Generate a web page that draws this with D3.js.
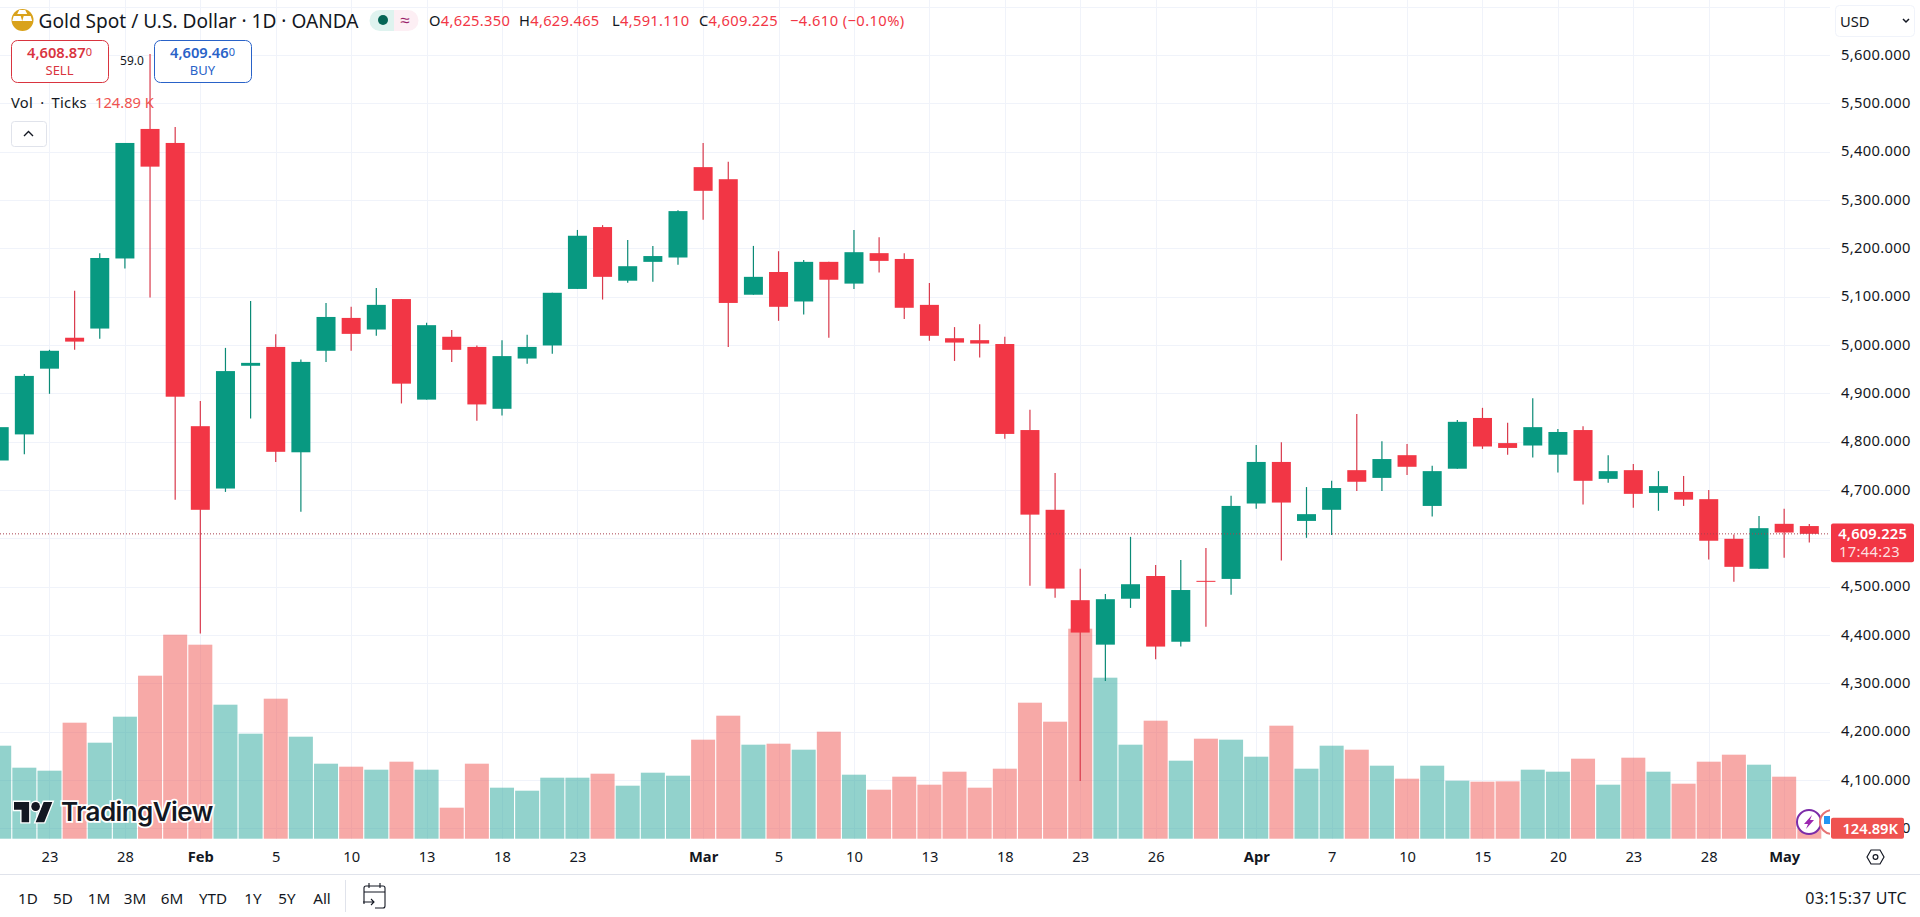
<!DOCTYPE html>
<html><head><meta charset="utf-8">
<script src="https://cdnjs.cloudflare.com/ajax/libs/d3/7.8.5/d3.min.js"></script>
<style>
html,body{margin:0;padding:0;background:#fff;overflow:hidden}
svg{display:block}
text{font-family:"Noto Sans",Tahoma,sans-serif}
</style></head><body><div id="chart"></div>
<script>
const opens=[4761,4815,4951,5015,5034,5179,5447,5418,4832,4703,4957,4996,4778,4988,5056,5032,5095,4887,5017,4996,4868,4972,4999,5116,5244,5133,5172,5181,5368,5343,5104,5151,5090,5172,5127,5190,5178,5083,5014,5010,5002,4824,4659,4472,4380,4475,4522,4386,4512,4516,4672,4758,4636,4659,4741,4725,4772,4667,4744,4849,4797,4792,4773,4824,4723,4741,4694,4696,4681,4599,4537,4630,4625.35];
const highs=[4845,4940,4990,5112,5190,5418,5602,5451,4884,4994,5091,5022,4970,5087,5079,5118,5095,5046,5031,4999,5010,5021,5108,5238,5248,5217,5205,5279,5418,5379,5205,5194,5176,5172,5238,5223,5190,5128,5037,5043,5017,4866,4735,4537,4485,4603,4545,4555,4580,4688,4793,4799,4706,4719,4857,4801,4795,4750,4845,4870,4839,4890,4826,4832,4772,4754,4739,4729,4700,4608,4646,4661,4629.465];
const lows=[4752,4774,4899,4990,5013,5158,5098,4680,4403,4696,4848,4758,4655,4965,4988,5019,4879,4887,4965,4843,4854,4961,4982,5116,5094,5129,5131,5166,5259,4996,5104,5050,5063,5015,5116,5150,5054,5009,4967,4974,4806,4502,4477,4098,4305,4456,4350,4376,4417,4483,4661,4554,4601,4607,4698,4698,4731,4645,4744,4785,4773,4767,4736,4670,4715,4663,4657,4667,4556,4510,4537,4560,4591.11];
const closes=[4830,4936,4988,5007,5180,5418,5369,4893,4659,4946,4963,4779,4965,5058,5023,5083,4920,5041,4990,4877,4977,4996,5108,5226,5141,5163,5184,5277,5319,5087,5141,5079,5172,5135,5192,5174,5077,5019,5005,5003,4816,4649,4496,4405,4474,4505,4376,4493,4510,4667,4758,4674,4650,4704,4717,4764,4748,4739,4841,4790,4787,4830,4820,4719,4739,4692,4708,4680,4595,4541,4621,4612,4609.225];
const volumes=[1116,852,816,1392,1152,1464,1956,2448,2328,1608,1260,1680,1224,900,864,828,924,828,372,900,612,576,732,732,780,636,792,756,1188,1476,1128,1140,1068,1284,768,588,744,648,804,612,840,1632,1404,2520,1932,1128,1416,936,1200,1188,984,1356,840,1116,1068,876,720,876,696,684,688,828,804,960,648,972,804,660,924,1008,888,744,124.89];
const timeTickIdx=[2,5,8,11,14,17,20,23,28,31,34,37,40,43,46,50,53,56,59,62,65,68,71];
const timeTickLabels=["23","28","Feb","5","10","13","18","23","Mar","5","10","13","18","23","26","Apr","7","10","15","20","23","28","May"];
const monthLabels=["Feb","Mar","Apr","May"];
const priceTicks=[5700,5600,5500,5400,5300,5200,5100,5000,4900,4800,4700,4600,4500,4400,4300,4200,4100,4000];
const rangeButtons=["1D","5D","1M","3M","6M","YTD","1Y","5Y","All"];
const ohlcText=[["O","4,625.350"],["H","4,629.465"],["L","4,591.110"],["C","4,609.225"]];

const W=1920,H=917,paneR=1830,paneB=839;
const UP="#089981",DOWN="#F23645",GRID="#F0F3FA",INK="#131722";
const svg=d3.select("#chart").append("svg").attr("width",W).attr("height",H).attr("viewBox",[0,0,W,H]);
const x=d3.scaleLinear().domain([0,72]).range([-0.8,1809.3]);
const y=d3.scaleLinear().domain([5600,4000]).range([55,828.3]);
const v=d3.scaleLinear().domain([0,2520]).range([838.7,628.7]);
const data=opens.map((o,i)=>({i,o,h:highs[i],l:lows[i],c:closes[i],v:volumes[i],up:closes[i]>=o}));
svg.append("clipPath").attr("id","pane").append("rect").attr("width",paneR).attr("height",paneB);
const pane=svg.append("g").attr("clip-path","url(#pane)");

// grid
pane.append("g").selectAll("line").data(priceTicks).join("line")
 .attr("x1",0).attr("x2",paneR).attr("y1",d=>Math.round(y(d))+.5).attr("y2",d=>Math.round(y(d))+.5).attr("stroke",GRID);
pane.append("g").selectAll("line").data(timeTickIdx).join("line")
 .attr("y1",0).attr("y2",paneB).attr("x1",d=>Math.round(x(d))+.5).attr("x2",d=>Math.round(x(d))+.5).attr("stroke",GRID);

// volume
pane.append("g").selectAll("rect").data(data).join("rect")
 .attr("x",d=>x(d.i)-12).attr("width",24).attr("y",d=>v(d.v)).attr("height",d=>v(0)-v(d.v))
 .attr("fill",d=>d.up?"#26a69a":"#ef5350").attr("fill-opacity",.5);

// candles
pane.append("g").selectAll("line").data(data).join("line")
 .attr("x1",d=>x(d.i)).attr("x2",d=>x(d.i)).attr("y1",d=>y(d.h)).attr("y2",d=>y(d.l))
 .attr("stroke",d=>d.up?"#0B8A76":"#D93A4C").attr("stroke-width",1.2);
pane.append("g").selectAll("rect").data(data).join("rect")
 .attr("x",d=>x(d.i)-9.5).attr("width",19)
 .attr("y",d=>y(Math.max(d.o,d.c))).attr("height",d=>Math.max(1,Math.abs(y(d.o)-y(d.c))))
 .attr("fill",d=>d.up?UP:DOWN);

// last price line
pane.append("line").attr("x1",0).attr("x2",paneR).attr("y1",y(closes[72])).attr("y2",y(closes[72]))
 .attr("stroke","#A8404E").attr("stroke-dasharray","1 2").attr("stroke-width",1);

// TradingView logo
const logo=pane.append("g");
logo.append("g").attr("transform","translate(14,797.5) scale(1.08,1.12)")
 .call(g=>{
  g.append("path").attr("d","M14 22H7V11H0V4h14v18zM28 22h-8l7.5-18h8L28 22z").attr("fill","#131722").attr("stroke","#fff").attr("stroke-width",2.5).attr("paint-order","stroke");
  g.append("circle").attr("cx",20).attr("cy",8).attr("r",4).attr("fill","#131722").attr("stroke","#fff").attr("stroke-width",2.5).attr("paint-order","stroke");
 });
logo.append("text").attr("x",61).attr("y",821).text("TradingView")
 .attr("font-size",26).attr("font-weight",600).attr("fill","#131722").attr("stroke","#fff").attr("stroke-width",3.5).attr("paint-order","stroke")
 .style("font-family","Inter,sans-serif").style("letter-spacing","-0.6px");

// lightning + flag bubbles
const bolt=pane.append("g").attr("transform","translate(1809,822)");
bolt.append("circle").attr("r",12).attr("fill","#fff").attr("stroke","#7B2CA8").attr("stroke-width",2);
bolt.append("path").attr("d","M3 -7L-5 2H-1L-3 7L5 -2H1Z").attr("fill","#9C27B0");
const flag=pane.append("g").attr("transform","translate(1832,822)");
flag.append("circle").attr("r",12).attr("fill","#fff").attr("stroke","#E57373").attr("stroke-width",2);
flag.append("rect").attr("x",-8).attr("y",-6).attr("width",8).attr("height",8).attr("fill","#2196F3");

// price axis (the 4,600 label sits hidden under the last-price badge in the reference)
const axisR=svg.append("g").attr("transform",`translate(${paneR},0)`)
 .call(d3.axisRight(y).tickValues(priceTicks.filter(t=>t<=5600&&t!==4600)).tickSize(0).tickPadding(11).tickFormat(d3.format(",.3f")));
axisR.select(".domain").remove();
axisR.selectAll("text").style("font-family",'"Noto Sans",sans-serif').attr("font-size",14.7).attr("fill",INK).attr("dy",".28em").style("letter-spacing",".35px");

// time axis
const axisB=svg.append("g").attr("transform",`translate(0,${paneB})`)
 .call(d3.axisBottom(x).tickValues(timeTickIdx).tickSize(0).tickPadding(13).tickFormat((d,i)=>timeTickLabels[i]));
axisB.select(".domain").remove();
axisB.selectAll("text").style("font-family",'"Noto Sans",sans-serif').attr("font-size",14.7).attr("fill",INK)
 .attr("font-weight",(d,i)=>monthLabels.includes(timeTickLabels[i])?700:400);

// axis badges
const lastY=y(closes[72]);
const badge=svg.append("g");
badge.append("rect").attr("x",1831).attr("y",lastY-10.3).attr("width",83).attr("height",38.7).attr("rx",2).attr("fill",DOWN);
badge.append("text").attr("x",1907).attr("y",lastY+5).attr("text-anchor","end").attr("fill","#fff").attr("font-size",14.7).attr("font-weight",600).style("letter-spacing",".2px").text(d3.format(",.3f")(closes[72]));
badge.append("text").attr("x",1900).attr("y",lastY+23).attr("text-anchor","end").attr("fill","#fff").attr("fill-opacity",.85).attr("font-size",14.7).style("letter-spacing",".35px").text("17:44:23");
badge.append("rect").attr("x",1831).attr("y",817.7).attr("width",73).attr("height",21).attr("rx",2).attr("fill","#EF5350");
badge.append("text").attr("x",1898).attr("y",834).attr("text-anchor","end").attr("fill","#fff").attr("font-size",14.7).attr("font-weight",600).text("124.89K");

// USD box
svg.append("rect").attr("x",1835.5).attr("y",5.5).attr("width",79).attr("height",31).attr("rx",4).attr("fill","#fff").attr("stroke","#F0F3FA");
svg.append("text").attr("x",1840).attr("y",27).attr("font-size",14.7).attr("fill",INK).text("USD");
svg.append("path").attr("d","M1903 19l3 3 3-3").attr("fill","none").attr("stroke",INK).attr("stroke-width",1.5);

// separators
svg.append("line").attr("x1",0).attr("x2",W).attr("y1",874.5).attr("y2",874.5).attr("stroke","#E0E3EB");
svg.append("line").attr("x1",345.5).attr("x2",345.5).attr("y1",880).attr("y2",912).attr("stroke","#E0E3EB");

// range buttons
const rangeX=[28,63,99,135,172,213,253,287,322];
svg.append("g").selectAll("text").data(rangeButtons).join("text")
 .attr("x",(d,i)=>rangeX[i]).attr("y",904).attr("text-anchor","middle").attr("font-size",15.2).attr("fill",INK).text(d=>d);
// calendar icon
svg.append("path").attr("d","M364 904v-16a2 2 0 0 1 2-2h17a2 2 0 0 1 2 2v18a2 2 0 0 1-2 2h-8M364 892h21M369 883v5M380 883v5M363 902h11m-3-3l3 3-3 3")
 .attr("fill","none").attr("stroke",INK).attr("stroke-width",1.1);
svg.append("text").attr("x",1907).attr("y",904).attr("text-anchor","end").attr("font-size",16).attr("fill",INK).style("letter-spacing",".3px").text("03:15:37 UTC");
// settings hexagon
svg.append("path").attr("d","M1867 857l4-7h9l4 7-4 7h-9z").attr("fill","none").attr("stroke",INK).attr("stroke-width",1.2);
svg.append("circle").attr("cx",1875.5).attr("cy",857).attr("r",2.4).attr("fill","none").attr("stroke",INK).attr("stroke-width",1.2);

// header
const hdr=svg.append("g");
hdr.append("circle").attr("cx",22.5).attr("cy",20).attr("r",11).attr("fill","#D9A21B");
hdr.append("path").attr("d","M19.5 12h6l2 4h-10zM14 18h7l1.5 5h-10zM24 18h7l1.5 5h-10z").attr("fill","#fff").attr("transform","translate(-.3,-2)");
hdr.append("text").attr("x",38.5).attr("y",27.5).attr("font-size",19.1).attr("fill",INK).text("Gold Spot / U.S. Dollar · 1D · OANDA");
hdr.append("path").attr("d","M394 10h-14a10.5 10.5 0 0 0 0 21h14z").attr("fill","#DFF3EF");
hdr.append("path").attr("d","M394 10h14a10.5 10.5 0 0 1 0 21h-14z").attr("fill","#FDEFF4");
hdr.append("circle").attr("cx",383).attr("cy",20).attr("r",5).attr("fill","#056656");
hdr.append("text").attr("x",405).attr("y",26).attr("text-anchor","middle").attr("font-size",17).attr("fill","#9C1F6B").text("≈");
const ohlcX=[429,519,612,699];
ohlcText.forEach(([k,val],i)=>{
 const t=hdr.append("text").attr("x",ohlcX[i]).attr("y",26).attr("font-size",14.7).style("letter-spacing",".3px");
 t.append("tspan").attr("fill",INK).text(k);
 t.append("tspan").attr("fill",DOWN).text(val);
});
hdr.append("text").attr("x",790).attr("y",26).attr("font-size",14.7).attr("fill",DOWN).style("letter-spacing",".42px").text("−4.610 (−0.10%)");

// buy/sell
function tradeBox(xl,w,col,main,small,label){
 hdr.append("rect").attr("x",xl+.5).attr("y",40.5).attr("width",w).attr("height",42).attr("rx",6).attr("fill","#fff").attr("stroke",col);
 const t=hdr.append("text").attr("x",xl+w/2).attr("y",58).attr("text-anchor","middle").attr("fill",col);
 t.append("tspan").attr("font-size",14.7).attr("font-weight",600).text(main);
 t.append("tspan").attr("font-size",11).attr("dy",-2).text(small);
 hdr.append("text").attr("x",xl+w/2).attr("y",75).attr("text-anchor","middle").attr("font-size",13).attr("fill",col).text(label);
}
tradeBox(11,97,"#D9343F","4,608.87","0","SELL");
tradeBox(154,97,"#2962C8","4,609.46","0","BUY");
hdr.append("text").attr("x",132).attr("y",65).attr("text-anchor","middle").attr("font-size",12).attr("fill",INK).text("59.0");

// volume legend
hdr.append("text").attr("x",11).attr("y",108).attr("font-size",14.7).attr("fill",INK).style("word-spacing","3px").style("letter-spacing",".3px").text("Vol · Ticks");
hdr.append("text").attr("x",95).attr("y",108).attr("font-size",14.7).attr("fill","#EF5350").text("124.89 K");
hdr.append("rect").attr("x",11.5).attr("y",121.5).attr("width",35).attr("height",25).attr("rx",3).attr("fill","#fff").attr("stroke","#E0E3EB");
hdr.append("path").attr("d","M24 136l4.5-4.5 4.5 4.5").attr("fill","none").attr("stroke",INK).attr("stroke-width",1.4);
</script></body></html>
